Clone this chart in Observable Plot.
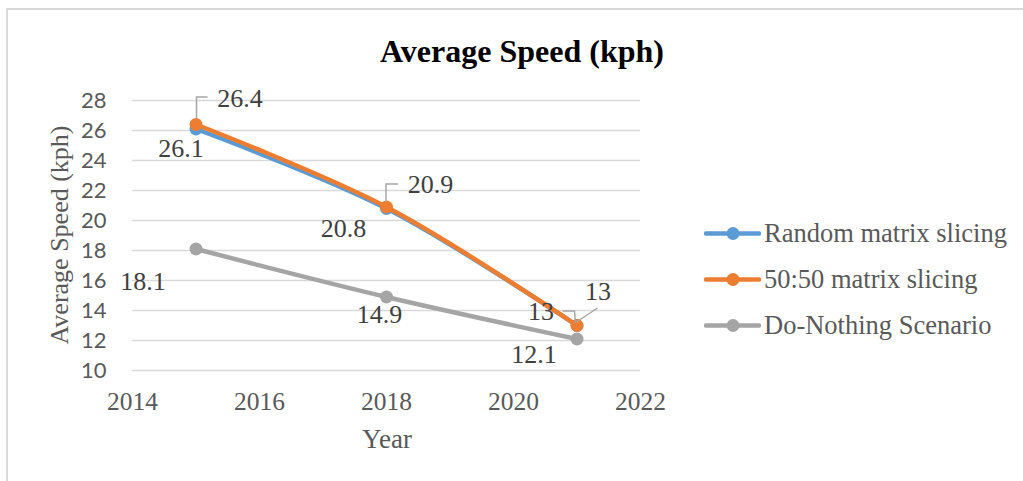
<!DOCTYPE html>
<html>
<head>
<meta charset="utf-8">
<script src="https://cdn.jsdelivr.net/npm/d3@7"></script>
<script src="https://cdn.jsdelivr.net/npm/@observablehq/plot@0.6"></script>
<style>
  html, body { margin: 0; padding: 0; background: #fff; }
  #wrap { position: relative; width: 1023px; height: 481px; overflow: hidden; background: #fff; }
  #border { position: absolute; left: 6px; top: 8px; width: 1100px; height: 600px; border-left: 2px solid #d9d9d9; border-top: 2px solid #d9d9d9; }
  #chart { position: absolute; left: 0; top: 0; }
  .serif { font-family: "Liberation Serif", "Times New Roman", serif; }
  #title { position: absolute; left: 522px; top: 51px; transform: translate(-50%, -50%); white-space: nowrap; font-size: 32px; font-weight: bold; color: #000; }
  #ylabel { position: absolute; left: 60px; top: 235px; transform: translate(-50%, -50%) rotate(-90deg); white-space: nowrap; font-size: 26px; color: #595959; }
  #xlabel { position: absolute; left: 387px; top: 439px; transform: translate(-50%, -50%); font-size: 27px; color: #595959; }
  #legend { position: absolute; left: 704px; top: 0; }
  .li { position: absolute; left: 0; display: flex; align-items: center; white-space: nowrap; transform: translateY(-50%); font-size: 26.5px; color: #595959; }
  .li svg { margin-right: 3px; }
</style>
</head>
<body>
<div id="wrap">
  <div id="border"></div>
  <div id="chart"></div>
  <div id="title" class="serif">Average Speed (kph)</div>
  <div id="ylabel" class="serif">Average Speed (kph)</div>
  <div id="xlabel" class="serif">Year</div>
  <div id="legend" class="serif"></div>
</div>
<script>
// ---- data ----
const years = [2015, 2018, 2021];
const seriesNames = ["Random matrix slicing", "50:50 matrix slicing", "Do-Nothing Scenario"];
const randomSlicing = [26.1, 20.8, 13];
const fiftySlicing = [26.4, 20.9, 13];
const doNothing = [18.1, 14.9, 12.1];
const yTicks = [10, 12, 14, 16, 18, 20, 22, 24, 26, 28];
const xTicks = [2014, 2016, 2018, 2020, 2022];

// ---- layout (pixel offsets of data labels & leader lines) ----
const colors = ["#5b9bd5", "#ed7d31", "#a5a5a5"];
const labelOffsets = [
  [[-15, 19.5], [-43, 20], [-36, -14]],
  [[44, -26], [44, -22.5], [21, -34]],
  [[-53, 32.5], [-7, 17.5], [-43, 15.5]]
];
const leaders = [
  [null, null, [[-14, -14], [-2, -14], [-1, -2]]],
  [[[1, -6], [1, -27], [12, -27]], [[0, -4.5], [0, -22.5], [12, -22.5]], [[0, -3], [21, -17]]],
  [null, null, null]
];

const seriesValues = [randomSlicing, fiftySlicing, doNothing];
const rows = [];
seriesValues.forEach((vals, s) => {
  vals.forEach((v, i) => rows.push({
    series: seriesNames[s], si: s, i, year: years[i], value: v,
    dx: labelOffsets[s][i][0], dy: labelOffsets[s][i][1], leader: leaders[s][i]
  }));
});

const W = 1023, H = 481;
const marks = [
  Plot.ruleY(yTicks, {stroke: "#d9d9d9", strokeWidth: 1.5}),
  Plot.text(yTicks, {y: d => d, text: d => String(d), frameAnchor: "left", textAnchor: "end", lineAnchor: "middle", dx: -26,
    fontFamily: "Lato, 'Open Sans', sans-serif", fontSize: 22, fill: "#595959"}),
  Plot.text(xTicks, {x: d => d, text: d => String(d), frameAnchor: "bottom", lineAnchor: "middle", dy: 31,
    fontFamily: "'Liberation Serif', serif", fontSize: 25.5, fill: "#595959"})
];
seriesNames.forEach((name, s) => {
  const data = rows.filter(r => r.si === s);
  marks.push(Plot.line(data, {x: "year", y: "value", stroke: colors[s], strokeWidth: 4.5, curve: "catmull-rom"}));
  marks.push(Plot.dot(data, {x: "year", y: "value", fill: colors[s], r: 6.5}));
});
// leader lines
marks.push(function (index, scales) {
  const g = d3.create("svg:g");
  rows.filter(r => r.leader).forEach(r => {
    const px = scales.x(r.year), py = scales.y(r.value);
    g.append("polyline")
      .attr("points", r.leader.map(([a, b]) => `${px + a},${py + b}`).join(" "))
      .attr("fill", "none").attr("stroke", "#a6a6a6").attr("stroke-width", 1.5);
  });
  return g.node();
});
// data labels
seriesNames.forEach((name, s) => {
  rows.filter(r => r.si === s).forEach(r => {
    marks.push(Plot.text([r], {x: "year", y: "value", text: d => String(d.value), dx: r.dx, dy: r.dy,
      fontFamily: "'Liberation Serif', serif", fontSize: 26, fill: "#404040"}));
  });
});

const chart = Plot.plot({
  width: W, height: H,
  marginLeft: 132, marginRight: W - 640, marginTop: 100, marginBottom: H - 370,
  x: {domain: [2014, 2022], axis: null},
  y: {domain: [10, 28], axis: null},
  style: {background: "transparent", overflow: "visible"},
  marks
});
document.getElementById("chart").appendChild(chart);

// legend
const legend = document.getElementById("legend");
const legendY = [233, 279, 325];
seriesNames.forEach((name, s) => {
  const row = document.createElement("div");
  row.className = "li";
  row.style.top = legendY[s] + "px";
  row.innerHTML = `<svg width="57" height="16"><line x1="2" y1="8" x2="55" y2="8" stroke="${colors[s]}" stroke-width="4.5" stroke-linecap="round"/><circle cx="29" cy="8" r="6.5" fill="${colors[s]}"/></svg><span>${name}</span>`;
  legend.appendChild(row);
});
</script>
</body>
</html>
